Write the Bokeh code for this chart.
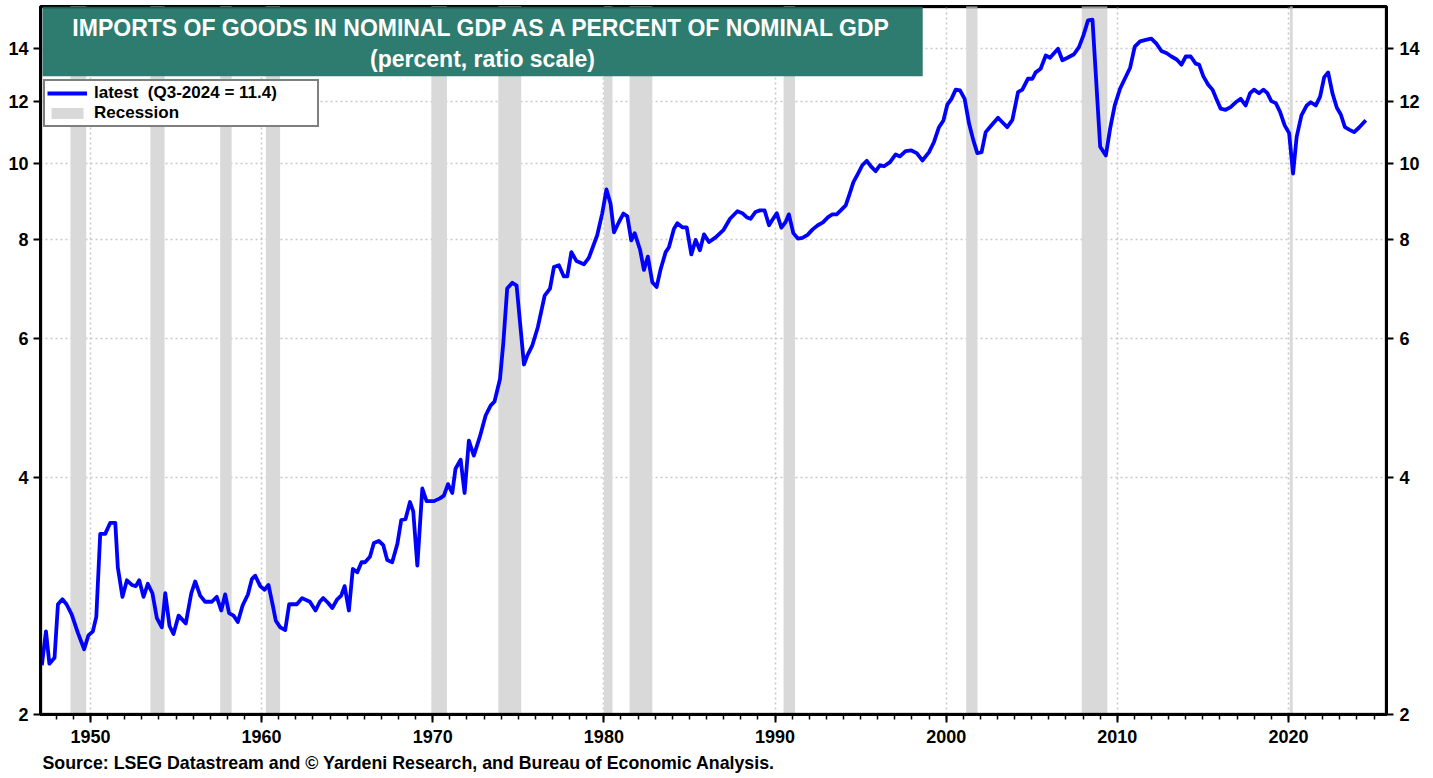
from bokeh.plotting import figure
from bokeh.models import (FixedTicker, LogAxis, Range1d, BoxAnnotation, Label,
                          Legend, LegendItem, Title, ColumnDataSource)
from bokeh.embed import file_html
from bokeh.resources import INLINE

# ---------------- data ----------------
years = [
    1947.16, 1947.40, 1947.60, 1947.90, 1948.10, 1948.36, 1948.60, 1948.90, 1949.26, 1949.63,
    1949.88, 1950.14, 1950.34, 1950.57, 1950.86, 1951.15, 1951.45, 1951.60, 1951.87, 1952.13,
    1952.42, 1952.65, 1952.85, 1953.10, 1953.35, 1953.62, 1953.88, 1954.17, 1954.37, 1954.62,
    1954.85, 1955.15, 1955.57, 1955.89, 1956.12, 1956.41, 1956.70, 1957.09, 1957.38, 1957.64,
    1957.87, 1958.10, 1958.36, 1958.61, 1958.89, 1959.20, 1959.43, 1959.63, 1959.92, 1960.17,
    1960.40, 1960.64, 1960.83, 1961.09, 1961.38, 1961.61, 1962.06, 1962.37, 1962.82, 1963.15,
    1963.40, 1963.60, 1963.89, 1964.13, 1964.42, 1964.65, 1964.85, 1965.10, 1965.33, 1965.59,
    1965.84, 1966.04, 1966.33, 1966.56, 1966.85, 1967.11, 1967.34, 1967.63, 1967.93, 1968.16,
    1968.41, 1968.67, 1968.86, 1969.10, 1969.39, 1969.64, 1970.07, 1970.42, 1970.65, 1970.89,
    1971.14, 1971.33, 1971.63, 1971.86, 1972.11, 1972.40, 1972.75, 1973.09, 1973.38, 1973.61,
    1973.93, 1974.12, 1974.35, 1974.65, 1974.90, 1975.09, 1975.33, 1975.53, 1975.82, 1976.14,
    1976.54, 1976.85, 1977.08, 1977.37, 1977.66, 1977.86, 1978.10, 1978.40, 1978.83, 1979.12,
    1979.61, 1979.90, 1980.15, 1980.39, 1980.59, 1980.88, 1981.14, 1981.37, 1981.60, 1981.80,
    1982.11, 1982.34, 1982.57, 1982.83, 1983.08, 1983.32, 1983.61, 1983.80, 1984.09, 1984.29,
    1984.58, 1984.84, 1985.11, 1985.36, 1985.61, 1985.85, 1986.14, 1986.53, 1986.98, 1987.37,
    1987.80, 1988.09, 1988.34, 1988.57, 1988.86, 1989.12, 1989.39, 1989.65, 1989.84, 1990.10,
    1990.37, 1990.62, 1990.81, 1991.07, 1991.34, 1991.60, 1991.90, 1992.20, 1992.50, 1992.80,
    1993.10, 1993.35, 1993.60, 1993.84, 1994.13, 1994.33, 1994.58, 1994.85, 1995.10, 1995.36,
    1995.63, 1995.88, 1996.13, 1996.37, 1996.72, 1997.05, 1997.30, 1997.63, 1997.97, 1998.28,
    1998.61, 1999.00, 1999.29, 1999.58, 1999.84, 2000.07, 2000.31, 2000.56, 2000.81, 2001.08,
    2001.34, 2001.59, 2001.82, 2002.07, 2002.31, 2002.60, 2003.03, 2003.34, 2003.57, 2003.87,
    2004.20, 2004.45, 2004.78, 2005.04, 2005.23, 2005.52, 2005.82, 2006.07, 2006.30, 2006.54,
    2006.79, 2007.09, 2007.47, 2007.76, 2008.02, 2008.29, 2008.55, 2009.00, 2009.33, 2009.58,
    2009.85, 2010.16, 2010.44, 2010.75, 2011.02, 2011.33, 2011.66, 2011.99, 2012.30, 2012.58,
    2012.89, 2013.16, 2013.47, 2013.75, 2014.00, 2014.29, 2014.58, 2014.78, 2015.03, 2015.30,
    2015.56, 2015.81, 2016.04, 2016.33, 2016.62, 2016.92, 2017.21, 2017.50, 2017.76, 2017.99,
    2018.28, 2018.54, 2018.77, 2019.00, 2019.26, 2019.51, 2019.78, 2020.04, 2020.27, 2020.48,
    2020.76, 2021.07, 2021.30, 2021.60, 2021.85, 2022.09, 2022.32, 2022.58, 2022.83, 2023.06,
    2023.30, 2023.55, 2023.84, 2024.13, 2024.52,
]
imports_pct = [
    2.31, 2.55, 2.32, 2.36, 2.76, 2.80, 2.76, 2.68, 2.54, 2.42,
    2.52, 2.55, 2.66, 3.39, 3.39, 3.50, 3.50, 3.07, 2.82, 2.96,
    2.92, 2.91, 2.96, 2.82, 2.93, 2.85, 2.65, 2.58, 2.85, 2.59,
    2.53, 2.67, 2.61, 2.85, 2.95, 2.83, 2.78, 2.78, 2.82, 2.71,
    2.84, 2.69, 2.67, 2.62, 2.75, 2.84, 2.97, 3.00, 2.91, 2.88,
    2.92, 2.76, 2.63, 2.58, 2.56, 2.76, 2.76, 2.81, 2.78, 2.71,
    2.78, 2.81, 2.77, 2.73, 2.80, 2.83, 2.91, 2.71, 3.06, 3.03,
    3.12, 3.12, 3.17, 3.30, 3.32, 3.28, 3.14, 3.12, 3.29, 3.53,
    3.54, 3.72, 3.62, 3.09, 3.87, 3.73, 3.73, 3.76, 3.79, 3.92,
    3.82, 4.10, 4.21, 3.82, 4.45, 4.26, 4.50, 4.79, 4.93, 4.99,
    5.33, 5.91, 6.94, 7.06, 7.00, 6.32, 5.56, 5.71, 5.88, 6.20,
    6.80, 6.94, 7.39, 7.43, 7.19, 7.19, 7.72, 7.52, 7.45, 7.59,
    8.11, 8.64, 9.27, 8.89, 8.18, 8.43, 8.64, 8.57, 7.99, 8.16,
    7.78, 7.33, 7.62, 7.07, 6.97, 7.35, 7.72, 7.83, 8.26, 8.40,
    8.30, 8.30, 7.67, 8.00, 7.76, 8.13, 7.95, 8.06, 8.23, 8.51,
    8.70, 8.65, 8.55, 8.51, 8.68, 8.72, 8.72, 8.35, 8.48, 8.65,
    8.29, 8.43, 8.62, 8.16, 8.03, 8.05, 8.12, 8.25, 8.35, 8.42,
    8.55, 8.62, 8.62, 8.72, 8.85, 9.11, 9.47, 9.71, 9.95, 10.08,
    9.90, 9.78, 9.95, 9.92, 10.04, 10.27, 10.21, 10.37, 10.39, 10.31,
    10.09, 10.34, 10.65, 11.12, 11.34, 11.88, 12.08, 12.41, 12.38, 12.08,
    11.23, 10.70, 10.31, 10.34, 10.96, 11.15, 11.43, 11.25, 11.12, 11.36,
    12.32, 12.41, 12.81, 12.81, 13.05, 13.19, 13.71, 13.62, 13.80, 13.98,
    13.52, 13.62, 13.76, 14.05, 14.54, 15.19, 15.22, 10.50, 10.24, 11.07,
    11.85, 12.44, 12.81, 13.23, 14.07, 14.29, 14.35, 14.40, 14.18, 13.89,
    13.80, 13.67, 13.55, 13.35, 13.67, 13.67, 13.39, 13.35, 12.90, 12.60,
    12.41, 12.05, 11.74, 11.70, 11.79, 11.96, 12.08, 11.85, 12.28, 12.41,
    12.28, 12.41, 12.28, 12.00, 11.93, 11.63, 11.18, 10.93, 9.71, 10.81,
    11.51, 11.85, 11.96, 11.85, 12.16, 12.87, 13.05, 12.26, 11.77, 11.54,
    11.12, 11.04, 10.96, 11.11, 11.35,
]
recession_start = [1948.83, 1953.50, 1957.58, 1960.25, 1969.92, 1973.83, 1980.00, 1981.50,
                   1990.50, 2001.17, 2007.92, 2020.08]
recession_end = [1949.75, 1954.33, 1958.25, 1961.08, 1970.83, 1975.17, 1980.50, 1982.83,
                 1991.17, 2001.83, 2009.42, 2020.25]

x_major_ticks = [1950, 1960, 1970, 1980, 1990, 2000, 2010, 2020]
x_minor_ticks = list(range(1947, 2026))
y_ticks = [2, 4, 6, 8, 10, 12, 14]
y_tick_labels = ["2", "4", "6", "8", "10", "12", "14"]

title_line1 = "IMPORTS OF GOODS IN NOMINAL GDP AS A PERCENT OF NOMINAL GDP"
title_line2 = "(percent, ratio scale)"
legend_line = "latest \u00a0(Q3-2024 = 11.4)"
legend_rec = "Recession"
source_text = "Source: LSEG Datastream and \u00a9 Yardeni Research, and Bureau of Economic Analysis."

# ---------------- styling ----------------
FONT = "Liberation Sans"
TEAL = "#2E7C6F"
BLUE = "#0000FF"
REC = "#D9D9D9"
GRID = "#C8C8C8"

Y_LO, Y_HI = 2.0, 15.82
X_LO, X_HI = 1947.08, 2025.73

p = figure(width=1433, height=778, y_axis_type="log",
           x_range=Range1d(X_LO, X_HI), y_range=Range1d(Y_LO, Y_HI),
           output_backend="svg", toolbar_location=None,
           min_border_left=40, min_border_right=47, min_border_top=6, min_border_bottom=64)
p.background_fill_color = "white"
p.border_fill_color = "white"
p.outline_line_color = "black"
p.outline_line_width = 3

# recession bands
rec_src = ColumnDataSource(dict(left=recession_start, right=recession_end))
rec_r = p.quad(left="left", right="right", bottom=Y_LO * 0.5, top=Y_HI * 2, source=rec_src,
               fill_color=REC, line_color=None)

# main line
line_src = ColumnDataSource(dict(x=years, y=imports_pct))
line_r = p.line("x", "y", source=line_src, line_color=BLUE, line_width=3.8,
                line_join="round")

# axes
xa = p.xaxis[0]
xa.ticker = FixedTicker(ticks=x_major_ticks, minor_ticks=x_minor_ticks)
ya = p.yaxis[0]
ya.ticker = FixedTicker(ticks=y_ticks)
ya.major_label_overrides = dict(zip(y_ticks, y_tick_labels))

right_axis = LogAxis(ticker=FixedTicker(ticks=y_ticks),
                     major_label_overrides=dict(zip(y_ticks, y_tick_labels)))
p.add_layout(right_axis, "right")

for ax in [xa, ya, right_axis]:
    ax.axis_line_color = "black"
    ax.axis_line_width = 3
    ax.major_tick_line_color = "black"
    ax.major_tick_line_width = 2
    ax.minor_tick_line_color = "black"
    ax.minor_tick_line_width = 1.5
    ax.major_tick_in = 0
    ax.minor_tick_in = 0
    ax.major_label_text_font = FONT
    ax.major_label_text_font_style = "bold"
    ax.major_label_text_font_size = "18px"
    ax.major_label_text_color = "black"

xa.major_tick_out = 8
xa.minor_tick_out = 5
xa.major_label_standoff = 7
ya.major_tick_out = 7
ya.major_label_standoff = 5
right_axis.major_tick_out = 7
right_axis.major_label_standoff = 6
for ax in [ya, right_axis]:
    ax.minor_tick_out = 0
    ax.minor_tick_line_color = None

# grids
p.xgrid.ticker = FixedTicker(ticks=x_major_ticks)
p.ygrid.ticker = FixedTicker(ticks=y_ticks)
for g in [p.xgrid[0], p.ygrid[0]]:
    g.grid_line_color = GRID
    g.grid_line_dash = "2 3"
    g.grid_line_width = 1.6

# title box
p.add_layout(BoxAnnotation(left=X_LO + 0.12, right=1998.63, bottom=12.90, top=Y_HI,
                           fill_color=TEAL, fill_alpha=1.0, line_color=None))
p.add_layout(Label(x=1972.91, y=14.87, text=title_line1, text_align="center",
                   text_baseline="alphabetic", text_color="white", text_font=FONT,
                   text_font_style="bold", text_font_size="23px"))
p.add_layout(Label(x=1972.91, y=13.59, text=title_line2, text_align="center",
                   text_baseline="alphabetic", text_color="white", text_font=FONT,
                   text_font_style="bold", text_font_size="23px"))

# frame drawn on top (thick black border)
p.add_layout(BoxAnnotation(fill_alpha=0, line_color="black", line_width=4))

# legend
legend = Legend(items=[LegendItem(label=legend_line, renderers=[line_r]),
                       LegendItem(label=legend_rec, renderers=[rec_r])],
                location=(3, 587), orientation="vertical")
legend.label_text_font = FONT
legend.label_text_font_style = "bold"
legend.label_text_font_size = "17px"
legend.label_text_color = "black"
legend.glyph_width = 40
legend.glyph_height = 14
legend.label_height = 18
legend.label_width = 221
legend.label_standoff = 7
legend.padding = 2
legend.spacing = 0
legend.margin = 0
legend.border_line_color = "black"
legend.border_line_width = 2
legend.background_fill_color = "white"
legend.background_fill_alpha = 1.0
p.add_layout(legend)

# source
src_title = Title(text=source_text, align="left", text_font=FONT, text_font_style="bold",
                  text_font_size="17.8px", text_color="black", offset=2, standoff=11)
p.add_layout(src_title, "below")

open("out.html", "w").write(file_html(p, INLINE))
